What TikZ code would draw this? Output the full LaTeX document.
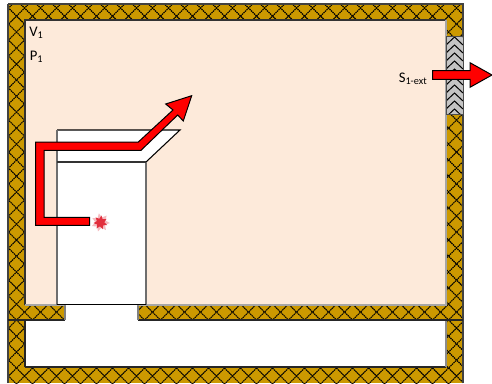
\documentclass[tikz,border=0pt]{standalone}
\usepackage{fontspec}
\setmainfont{Carlito}
\usetikzlibrary{shapes.geometric}
\definecolor{wallgold}{HTML}{CC9900}
\definecolor{roomfill}{HTML}{FDEADA}
\definecolor{ventgray}{HTML}{C4C4C4}
\definecolor{edgegray}{HTML}{6E6E6E}
\definecolor{flashred}{HTML}{E0202F}
\tikzset{
  hatchline/.style={black,line width=0.8pt,dash pattern=on 1.1pt off 0.5pt},
  walledge/.style={draw=edgegray!60!black,line width=0.9pt},
  redarrow/.style={fill=red,draw=black,line width=0.75pt,line join=miter},
  labeltext/.style={font=\fontsize{11}{13}\selectfont,inner sep=0pt,anchor=base west},
  boxedge/.style={draw=edgegray,line width=0.9pt},
  flash/.style={star,star points=7,star point ratio=1.8,fill=flashred,inner sep=0pt}
}
\begin{document}
\begin{tikzpicture}[x=0.75pt,y=-0.75pt]
\useasboundingbox (0,0) rectangle (492,383);
% wall body
\begin{scope}
  \clip (8,4) rectangle (463,383);
  \fill[wallgold] (8,4) rectangle (463,383);
  \foreach \k in {-30,...,60}{
    \draw[hatchline] ({\k*16+0.5},0) -- ++(400,400);
    \draw[hatchline] ({\k*16+0.5},0) -- ++(-400,400);
  }
\end{scope}
\draw[walledge] (8,4) -- (463,4) -- (463,383);
\draw[walledge] (8,383) -- (8,4);
% upper room
\fill[roomfill] (25,20) rectangle (446,305);
\draw[black!80,line width=1pt] (25,305) -- (25,20) -- (446,20);
\draw[black!35,line width=0.8pt] (446,20) -- (446,305) -- (25,305);
% lower room and opening
\fill[white] (25,320) rectangle (446,367);
\fill[white] (65,303) rectangle (138,321);
\draw[black!85,line width=1pt] (25,367) -- (25,320);
\draw[black!85,line width=1pt] (25,367) -- (446,367);
\draw[black!45,line width=0.8pt] (446,320) -- (446,367);
\draw[black!85,line width=0.9pt] (8,320) -- (65,320);
\draw[black!85,line width=0.9pt] (138,320) -- (463,320);
\draw[black!50,line width=0.9pt] (65,305) -- (65,320);
\draw[black!50,line width=0.9pt] (138,305) -- (138,320);
% vent
\begin{scope}
  \clip (446,36) rectangle (463,114);
  \fill[ventgray] (446,36) rectangle (463,114);
  \foreach \k in {0,...,11}{
    \draw[black,line width=0.75pt] (446,{37+\k*8}) -- (454.5,{29+\k*8}) -- (463,{37+\k*8});
  }
\end{scope}
\draw[black!70,line width=0.7pt] (446,36) rectangle (463,114);
% cabinet with hood
\fill[white] (57,130) -- (180,130) -- (146,162) -- (146,305) -- (57,305) -- cycle;
\draw[black,line width=0.8pt] (57,130) -- (180,130) -- (146,162);
\draw[boxedge] (57,130) -- (57,305);
\draw[boxedge] (146,162) -- (146,305);
\draw[black!80,line width=0.9pt] (57,162) -- (146,162);
\draw[black,line width=0.9pt] (57,304.5) -- (146,304.5);
% flash
\node[flash,minimum size=14pt,opacity=0.3,rotate=10] (flashglow) at (100.5,222.5) {};
\node[flash,minimum size=10.5pt,opacity=0.9,rotate=-8] (flashcore) at (100.5,222.5) {};
% arrows
\draw[redarrow] (89.7,217.3) -- (44,217.3) -- (44,150.3) -- (141,150.3) -- (177.7,115) -- (183.3,121) -- (191.7,95.7) -- (165.7,104) -- (173,110) -- (138.3,142) -- (35.7,142) -- (35.7,225.3) -- (89.7,225.3) -- cycle;
\draw[redarrow] (432.7,70.7) -- (470,70.7) -- (470,62.7) -- (492,75) -- (470,87.3) -- (470,79.3) -- (432.7,79.3) -- cycle;
% labels
\node[labeltext] (vlabel) at (29,36) {V\textsubscript{1}};
\node[labeltext] (plabel) at (29.5,60) {P\textsubscript{1}};
\node[labeltext] (slabel) at (398.5,82) {S\textsubscript{1-ext}};
\end{tikzpicture}
\end{document}
